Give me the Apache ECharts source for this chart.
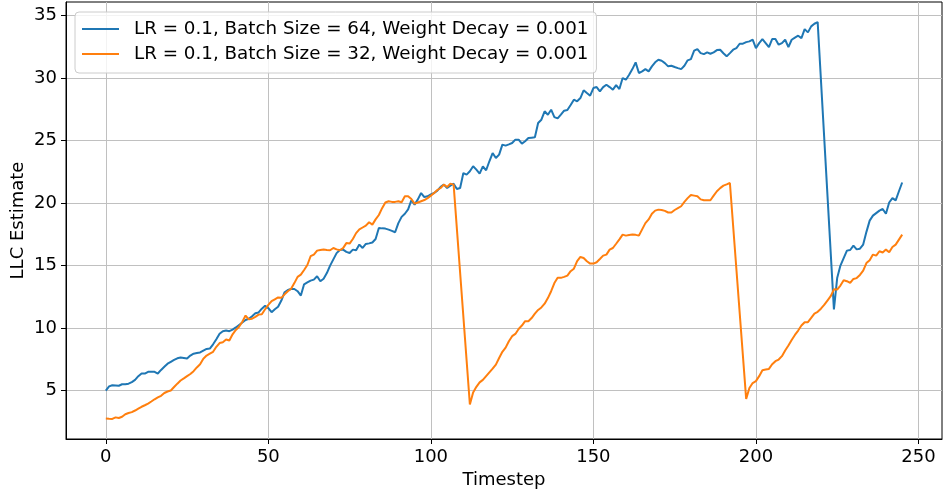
<!DOCTYPE html>
<html>
<head>
<meta charset="utf-8">
<script src="https://cdn.jsdelivr.net/npm/echarts@6/dist/echarts.min.js"></script>
<style>
html,body{margin:0;padding:0;background:#fff;}
#chart{width:943px;height:493px;}
</style>
</head>
<body>
<div id="chart"></div>
<script>
// Series values by timestep (index = timestep); null = no logged value at that step
const blueName = 'LR = 0.1, Batch Size = 64, Weight Decay = 0.001';
const orangeName = 'LR = 0.1, Batch Size = 32, Weight Decay = 0.001';

const blueValues = [
  5.0, 5.33, 5.42, 5.4, 5.38, 5.5, 5.5, 5.55, 5.67, 5.85,
  6.15, 6.36, 6.36, 6.5, 6.5, 6.5, 6.36, 6.65, 6.9, 7.15,
  7.3, 7.45, 7.58, 7.64, 7.6, 7.56, 7.8, 7.95, 8.0, 8.05,
  8.2, 8.33, 8.36, 8.7, 9.1, 9.55, 9.75, 9.8, 9.75, 9.88,
  10.05, 10.25, 10.45, 10.65, 10.75, 10.95, 11.18, 11.25, 11.55, 11.78,
  11.6, 11.27, 11.5, 11.7, 12.2, 12.87, 13.05, 13.13, 13.13, 12.95,
  12.6, 13.5, 13.65, 13.8, 13.88, 14.15, 13.75, 13.95, 14.4, 15.0,
  15.5, 16.0, 16.25, 16.28, 16.1, 16.01, 16.28, 16.23, 16.68, 16.41,
  16.73, 16.78, 16.85, 17.13, 18.01, 17.98, 17.96, 17.88, 17.78, 17.67,
  18.4, 18.9, 19.15, 19.5, 20.23, 19.88, 20.3, 20.81, 20.49, 20.55,
  20.7, 20.81, 21.0, 21.3, 21.48, 21.21, 21.4, 21.56, 21.13, 21.21,
  22.41, 22.28, 22.55, 22.95, 22.68, 22.36, 22.95, 22.63, 23.35, 24.01,
  23.61, 23.88, 24.68, 24.6, 24.7, 24.81, 25.08, 25.08, 24.76, 24.95,
  25.21, 25.24, 25.27, 26.41, 26.68, 27.35, 27.08, 27.48, 26.89, 26.78,
  27.08, 27.4, 27.45, 27.85, 28.28, 28.15, 28.41, 29.03, 28.81, 28.6,
  29.21, 29.29, 28.95, 29.29, 29.48, 29.29, 29.08, 29.45, 29.13, 30.01,
  29.88, 30.28, 30.73, 31.27, 30.41, 30.55, 30.73, 30.55, 30.95, 31.27,
  31.48, 31.4, 31.21, 30.95, 31.0, 30.9, 30.81, 30.73, 31.0, 31.43,
  31.53, 32.2, 32.33, 32.01, 31.93, 32.07, 31.96, 32.07, 32.25, 32.28,
  32.0, 31.75, 32.01, 32.28, 32.41, 32.76, 32.76, 32.89, 32.95, 33.08,
  32.41, 32.81, 33.13, 32.81, 32.49, 33.13, 33.13, 32.68, 32.81, 33.08,
  32.49, 33.08, 33.25, 33.4, 33.21, 33.93, 33.67, 34.15, 34.36, 34.49,
  null, null, null, null, 11.5, 14.0, 15.0, 15.6, 16.2, 16.25,
  16.6, 16.3, 16.35, 16.68, 17.7, 18.6, 19.0, 19.2, 19.4, 19.53,
  19.15, 20.05, 20.4, 20.22, 20.95, 21.65
];

const orangeValues = [
  2.76, 2.74, 2.73, 2.85, 2.8, 2.9, 3.1, 3.2, 3.27, 3.4,
  3.55, 3.7, 3.82, 3.95, 4.12, 4.3, 4.45, 4.58, 4.8, 4.92,
  5.0, 5.28, 5.55, 5.8, 5.97, 6.15, 6.32, 6.55, 6.85, 7.1,
  7.55, 7.8, 7.95, 8.1, 8.5, 8.8, 8.87, 9.08, 9.0, 9.5,
  9.85, 10.1, 10.5, 11.0, 10.7, 10.75, 10.9, 11.08, 11.1, 11.5,
  11.85, 12.15, 12.3, 12.45, 12.42, 12.7, 12.95, 13.15, 13.6, 14.1,
  14.28, 14.65, 15.05, 15.75, 15.88, 16.2, 16.25, 16.28, 16.25, 16.23,
  16.41, 16.3, 16.23, 16.4, 16.8, 16.76, 17.13, 17.6, 17.9, 18.05,
  18.2, 18.47, 18.28, 18.7, 19.05, 19.6, 20.05, 20.15, 20.1, 20.1,
  20.15, 20.07, 20.55, 20.55, 20.33, 19.96, 20.05, 20.15, 20.25, 20.4,
  20.6, 20.81, 21.05, 21.21, 21.48, 21.29, 21.56, 21.48, null, null,
  null, null, 3.88, 4.85, 5.3, 5.65, 5.85, 6.15, 6.45, 6.75,
  7.07, 7.6, 8.1, 8.43, 8.95, 9.35, 9.53, 9.93, 10.2, 10.55,
  10.55, 10.8, 11.15, 11.45, 11.65, 11.95, 12.4, 12.95, 13.6, 14.02,
  14.02, 14.1, 14.2, 14.55, 14.75, 15.35, 15.69, 15.61, 15.35, 15.16,
  15.16, 15.27, 15.53, 15.8, 15.88, 16.28, 16.41, 16.75, 17.1, 17.48,
  17.4, 17.45, 17.48, 17.46, 17.4, 17.9, 18.4, 18.7, 19.15, 19.4,
  19.48, 19.45, 19.38, 19.25, 19.25, 19.45, 19.6, 19.75, 20.1, 20.4,
  20.65, 20.6, 20.55, 20.3, 20.23, 20.23, 20.23, 20.6, 20.95, 21.2,
  21.4, 21.5, 21.61, null, null, null, null, 4.33, 5.2, 5.6,
  5.75, 6.15, 6.63, 6.68, 6.73, 7.1, 7.35, 7.48, 7.75, 8.2,
  8.6, 9.05, 9.45, 9.8, 10.2, 10.47, 10.47, 10.81, 11.16, 11.3,
  11.55, 11.85, 12.2, 12.55, 13.1, 13.08, 13.4, 13.83, 13.75, 13.61,
  13.93, 14.0, 14.25, 14.6, 15.2, 15.43, 15.88, 15.8, 16.15, 16.05,
  16.28, 16.07, 16.49, 16.68, 17.08, 17.48
];

const xTicks = [0, 50, 100, 150, 200, 250];
const yTicks = [5, 10, 15, 20, 25, 30, 35];

function toPairs(values) {
  const out = [];
  values.forEach(function (v, i) { if (v !== null) out.push([i, v]); });
  return out;
}

const FONT = 'DejaVu Sans';
const chart = echarts.init(document.getElementById('chart'), null, {renderer: 'canvas'});

const axisCommon = {
  type: 'value',
  axisLine: {show: true, onZero: false, lineStyle: {color: '#000', width: 1}},
  splitLine: {show: true, lineStyle: {color: '#c0c0c0', width: 1}},
  nameMoveOverlap: false,
  nameTextStyle: {fontSize: 18, fontFamily: FONT, color: '#000'}
};

chart.setOption({
  animation: false,
  backgroundColor: '#fff',
  grid: {left: 66, right: 1, top: 2, bottom: 54, show: true, borderColor: '#000', borderWidth: 1,
         containLabel: false, outerBoundsMode: 'none'},
  legend: {
    orient: 'vertical',
    left: 75,
    top: 12,
    data: [blueName, orangeName],
    icon: 'rect',
    itemWidth: 37,
    itemHeight: 2,
    itemGap: 7,
    padding: [8, 8, 10, 7],
    backgroundColor: 'rgba(255,255,255,0.8)',
    borderColor: '#cccccc',
    borderWidth: 1,
    borderRadius: 4,
    textStyle: {fontSize: 18.3, fontFamily: FONT, color: '#000', padding: [0, 0, 0, 10]}
  },
  xAxis: Object.assign({}, axisCommon, {
    min: -12.25,
    max: 257.25,
    minInterval: 50,
    maxInterval: 50,
    name: 'Timestep',
    nameLocation: 'middle',
    nameGap: 32,
    axisTick: {show: true, customValues: xTicks, length: 5, lineStyle: {color: '#000'}},
    axisLabel: {customValues: xTicks, fontSize: 18, fontFamily: FONT, color: '#000', margin: 9}
  }),
  yAxis: Object.assign({}, axisCommon, {
    min: 1.12,
    max: 36.1,
    minInterval: 5,
    maxInterval: 5,
    name: 'LLC Estimate',
    nameLocation: 'middle',
    nameGap: 39,
    axisTick: {show: true, customValues: yTicks, length: 5, lineStyle: {color: '#000'}},
    axisLabel: {customValues: yTicks, fontSize: 18, fontFamily: FONT, color: '#000', margin: 9}
  }),
  series: [
    {
      name: blueName, type: 'line', data: toPairs(blueValues),
      showSymbol: false, symbol: 'none', color: '#1f77b4',
      lineStyle: {width: 2, color: '#1f77b4'}, z: 2
    },
    {
      name: orangeName, type: 'line', data: toPairs(orangeValues),
      showSymbol: false, symbol: 'none', color: '#ff7f0e',
      lineStyle: {width: 2, color: '#ff7f0e'}, z: 3
    }
  ]
});
</script>
</body>
</html>
